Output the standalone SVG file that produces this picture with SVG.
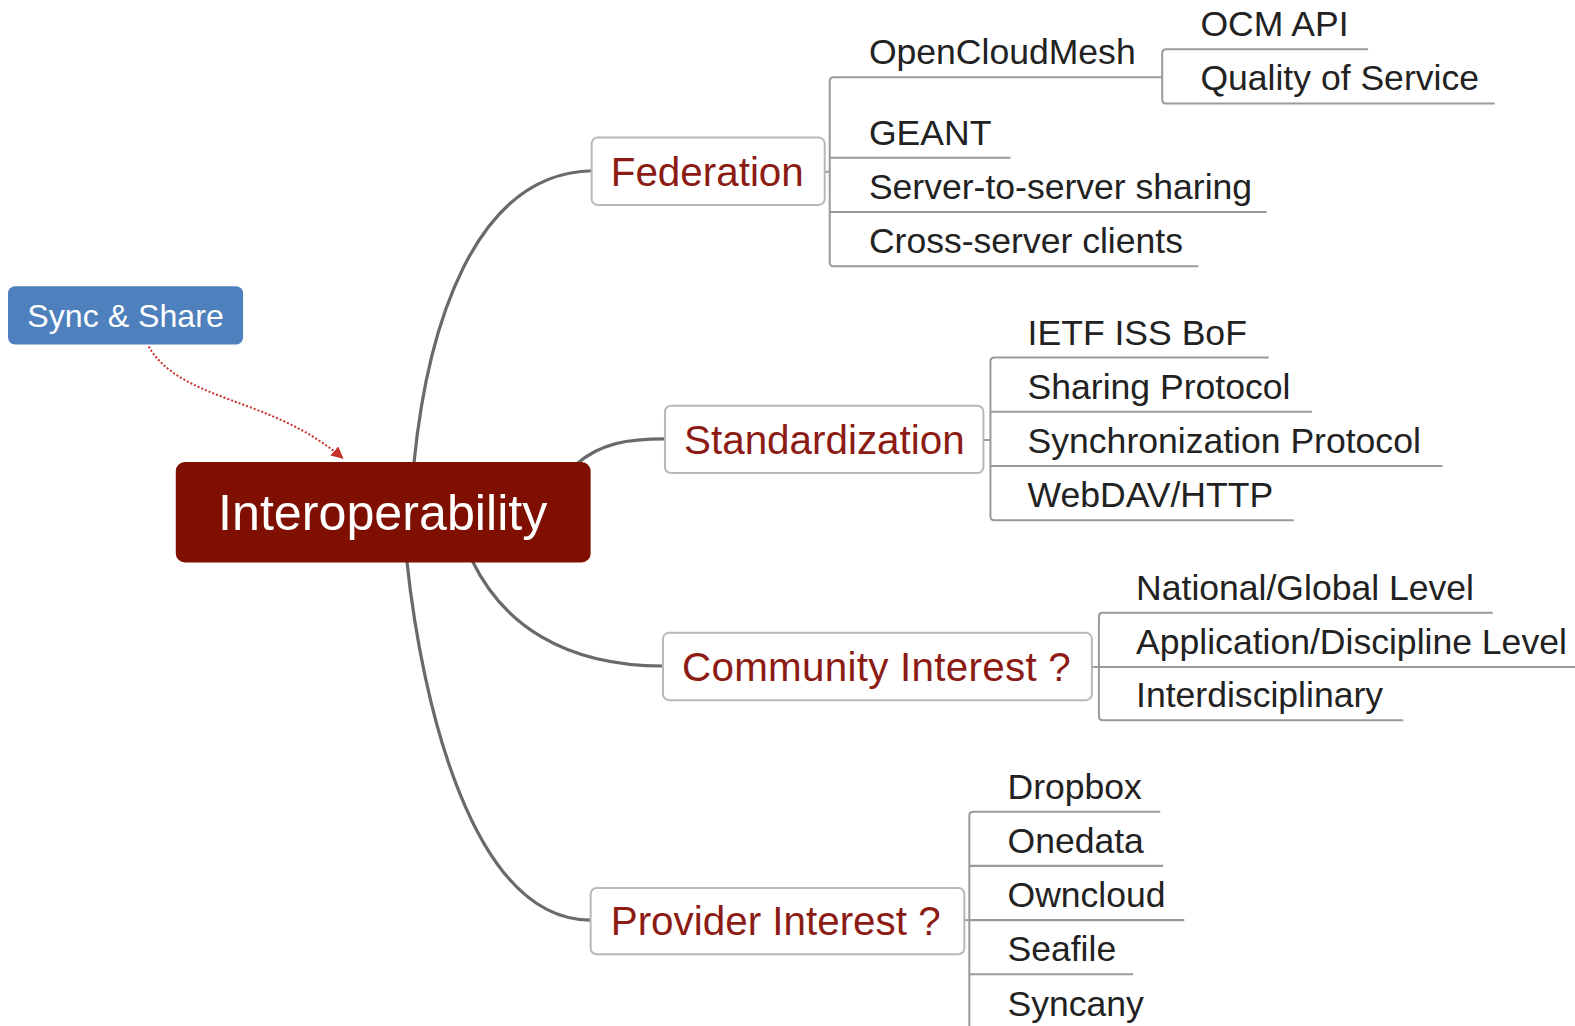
<svg xmlns="http://www.w3.org/2000/svg" width="1575" height="1026" viewBox="0 0 1575 1026">
<defs>
<style>
.leaf{font-family:"Liberation Sans",Arial,sans-serif;font-size:35.4px;fill:#222}
.branch{font-family:"Liberation Sans",Arial,sans-serif;font-size:40.2px;fill:#8c1b14}
.bbox{fill:#fff;stroke:#b8b8b8;stroke-width:2}
.ul{fill:none;stroke:#9a9a9a;stroke-width:2}
.main{fill:none;stroke:#6a6a6a;stroke-width:3.2;stroke-linecap:round}
</style>
<marker id="arr" viewBox="0 0 10 10" refX="9" refY="5" markerWidth="6" markerHeight="6" orient="auto">
<path d="M0,0 L10,5 L0,10 z" fill="#c8302a"/>
</marker>
</defs>
<rect width="1575" height="1026" fill="#fff"/>
<g transform="scale(1.0045)">
<g id="connectors">
<path class="main" d="M412,462 C425,330 470,172 590,170"/>
<path class="main" d="M574,462 C598,441 625,437 662,437"/>
<path class="main" d="M470,558 C500,620 560,663 660,663"/>
<path class="main" d="M405,558 C420,700 470,916 588,916"/>
<path d="M148,345 C180,400 270,395 341,456" fill="none" stroke="#c8302a" stroke-width="2" stroke-dasharray="2,2" marker-end="url(#arr)"/>
<path class="ul" d="M821,171 H826"/>
<path class="ul" d="M1157,77 H830 Q826,77 826,81 V261 Q826,265 830,265 H1193"/>
<path class="ul" d="M826,157 H1006 M826,211 H1261"/>
<path class="ul" d="M1362,49 H1161 Q1157,49 1157,53 V99 Q1157,103 1161,103 H1488"/>
<path class="ul" d="M979,438 H986"/>
<path class="ul" d="M1263,356 H990 Q986,356 986,360 V514 Q986,518 990,518 H1288"/>
<path class="ul" d="M986,410 H1306 M986,464 H1436"/>
<path class="ul" d="M1087,664 H1094"/>
<path class="ul" d="M1486,610 H1098 Q1094,610 1094,614 V713 Q1094,717 1098,717 H1397"/>
<path class="ul" d="M1094,664 H1570"/>
<path class="ul" d="M960,916 H965"/>
<path class="ul" d="M1155,808 H969 Q965,808 965,812 V1030"/>
<path class="ul" d="M965,862 H1158 M965,916 H1179 M965,970 H1128"/>
</g>
<g id="sync-share">
<rect x="8" y="285" width="234" height="58" rx="7" fill="#4d80bd"/>
<text x="125" y="326" text-anchor="middle" font-family="Liberation Sans, Arial, sans-serif" font-size="32" fill="#fff">Sync &amp; Share</text>
</g>
<g id="interoperability">
<rect x="175" y="460" width="413" height="100" rx="9" fill="#7f0f00"/>
<text x="381" y="528" text-anchor="middle" font-family="Liberation Sans, Arial, sans-serif" font-size="50" fill="#fff">Interoperability</text>
</g>
<g id="federation">
<rect class="bbox" x="589" y="137" width="232" height="67" rx="6"/>
<text class="branch" x="608" y="185">Federation</text>
</g>
<g id="standardization">
<rect class="bbox" x="662" y="404" width="317" height="67" rx="6"/>
<text class="branch" x="681" y="452">Standardization</text>
</g>
<g id="community">
<rect class="bbox" x="660" y="630" width="427" height="67" rx="6"/>
<text class="branch" x="679" y="678" textLength="387" lengthAdjust="spacing">Community Interest ?</text>
</g>
<g id="provider">
<rect class="bbox" x="588" y="884" width="372" height="66" rx="6"/>
<text class="branch" x="608" y="931">Provider Interest ?</text>
</g>
<g id="opencloudmesh"><text class="leaf" x="865" y="64">OpenCloudMesh</text></g>
<g id="ocm-api"><text class="leaf" x="1195" y="36">OCM API</text></g>
<g id="qos"><text class="leaf" x="1195" y="90">Quality of Service</text></g>
<g id="geant"><text class="leaf" x="865" y="144">GEANT</text></g>
<g id="s2s"><text class="leaf" x="865" y="198">Server-to-server sharing</text></g>
<g id="cross"><text class="leaf" x="865" y="252">Cross-server clients</text></g>
<g id="ietf"><text class="leaf" x="1023" y="343">IETF ISS BoF</text></g>
<g id="sharing"><text class="leaf" x="1023" y="397">Sharing Protocol</text></g>
<g id="sync-proto"><text class="leaf" x="1023" y="451">Synchronization Protocol</text></g>
<g id="webdav"><text class="leaf" x="1023" y="505">WebDAV/HTTP</text></g>
<g id="national"><text class="leaf" x="1131" y="597">National/Global Level</text></g>
<g id="application"><text class="leaf" x="1131" y="651">Application/Discipline Level</text></g>
<g id="interdisc"><text class="leaf" x="1131" y="704">Interdisciplinary</text></g>
<g id="dropbox"><text class="leaf" x="1003" y="795">Dropbox</text></g>
<g id="onedata"><text class="leaf" x="1003" y="849">Onedata</text></g>
<g id="owncloud"><text class="leaf" x="1003" y="903">Owncloud</text></g>
<g id="seafile"><text class="leaf" x="1003" y="957">Seafile</text></g>
<g id="syncany"><text class="leaf" x="1003" y="1011">Syncany</text></g>
</g>
</svg>
